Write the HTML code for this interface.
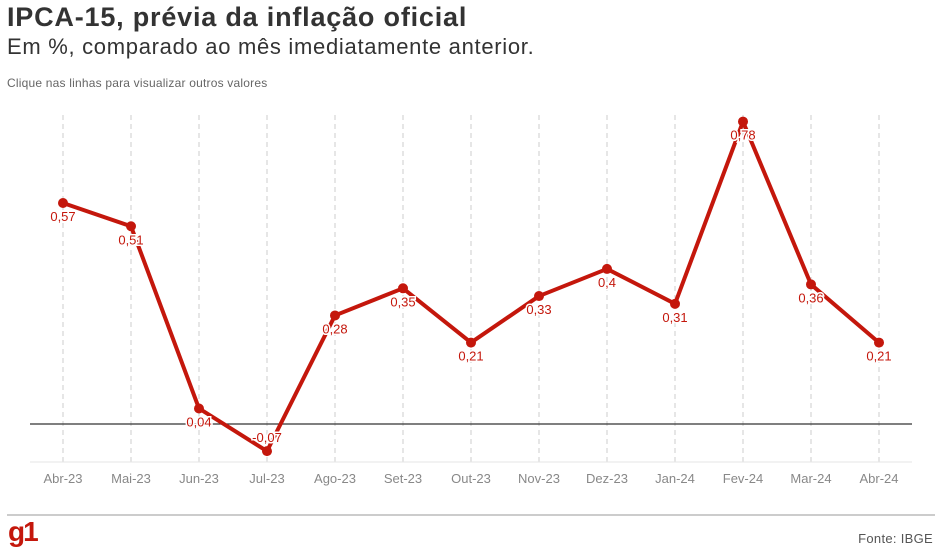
<!DOCTYPE html>
<html><head><meta charset="utf-8"><style>
body{margin:0;width:940px;height:555px;background:#fff;font-family:"Liberation Sans",sans-serif;overflow:hidden;position:relative}
.t{position:absolute;left:7px;top:2px;font-size:27px;font-weight:bold;color:#333;letter-spacing:0.8px}
.s{position:absolute;left:7px;top:34px;font-size:22px;color:#333;letter-spacing:0.7px}
.n{position:absolute;left:7px;top:76px;font-size:12px;color:#666;letter-spacing:0.2px}
.f{position:absolute;right:7px;top:531px;font-size:13px;color:#555;letter-spacing:0.3px}
.g{position:absolute;left:8px;top:516px;font-size:28px;font-weight:bold;color:#c4170c;letter-spacing:-2px}
</style></head><body>
<div class="t">IPCA-15, prévia da inflação oficial</div>
<div class="s">Em %, comparado ao mês imediatamente anterior.</div>
<div class="n">Clique nas linhas para visualizar outros valores</div>
<svg id="c" width="940" height="555" style="position:absolute;left:0;top:0"></svg>
<div class="g">g1</div>
<div class="f">Fonte: IBGE</div>
<script>
const categories=["Abr-23","Mai-23","Jun-23","Jul-23","Ago-23","Set-23","Out-23","Nov-23","Dez-23","Jan-24","Fev-24","Mar-24","Abr-24"];
const values=[0.57,0.51,0.04,-0.07,0.28,0.35,0.21,0.33,0.4,0.31,0.78,0.36,0.21];
const labels=["0,57","0,51","0,04","-0,07","0,28","0,35","0,21","0,33","0,4","0,31","0,78","0,36","0,21"];
const svg=document.getElementById('c');const NS='http://www.w3.org/2000/svg';
const x=i=>63+i*68, y=v=>424-v*387.7;
function mk(t,a,p){const e=document.createElementNS(NS,t);for(const k in a)e.setAttribute(k,a[k]);(p||svg).appendChild(e);return e;}
categories.forEach((c,i)=>{
 const l=mk('line',{x1:x(i),x2:x(i),y1:115,y2:462,stroke:'#ccc','stroke-dasharray':'5,4'});
 
 
 const t=mk('text',{x:x(i),y:483,'text-anchor':'middle','font-size':13,fill:'#888','font-family':'Liberation Sans, sans-serif'});
 t.textContent=c;
 
 
});
const ax=mk('line',{x1:30,x2:912,y1:462,y2:462,stroke:'#e6e6e6'});


const z=mk('line',{x1:30,x2:912,y1:y(0),y2:y(0),stroke:'#333','stroke-width':1.2});


const p=mk('polyline',{points:values.map((v,i)=>x(i)+','+y(v)).join(' '),fill:'none',stroke:'#c4170c','stroke-width':4,'stroke-linejoin':'round'});


values.forEach((v,i)=>{
 const d=mk('circle',{cx:x(i),cy:y(v),r:5,fill:'#c4170c'});
 
 
 const ty=v<0?y(v)-9:y(v)+18;
 const t=mk('text',{x:x(i),y:ty,'text-anchor':'middle','font-size':13,fill:'#c4170c',stroke:'#fff','stroke-width':3,'paint-order':'stroke','font-family':'Liberation Sans, sans-serif'});
 t.textContent=labels[i];
 
 
});
const fl=mk('line',{x1:7,x2:935,y1:515,y2:515,stroke:'#ccc','stroke-width':2});


</script>
</body></html>
